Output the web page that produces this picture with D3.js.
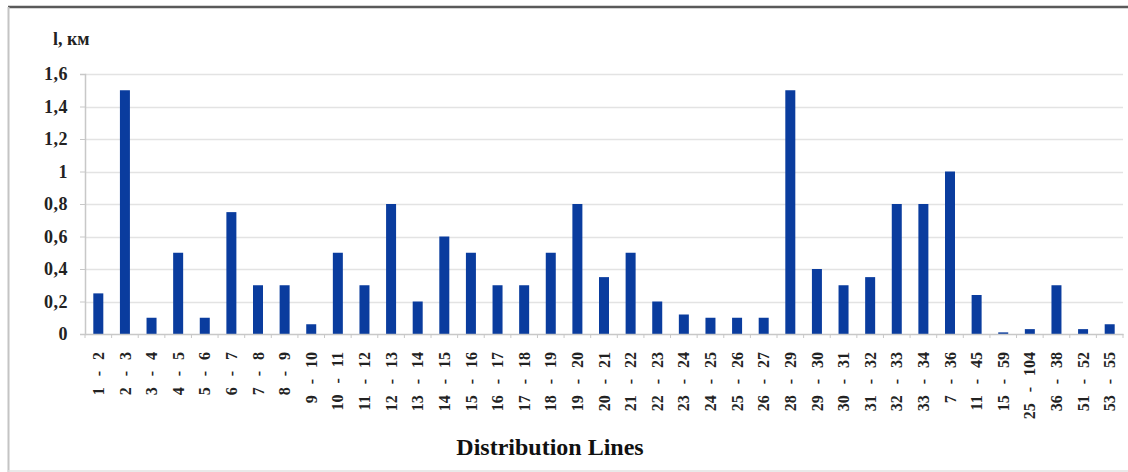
<!DOCTYPE html>
<html><head><meta charset="utf-8">
<script src="https://cdn.jsdelivr.net/npm/d3@7"></script>
<style>
html,body{margin:0;padding:0;background:#fff;}
svg{display:block;}
svg text{font-family:"Liberation Serif","Times New Roman","DejaVu Serif",serif;}
</style></head>
<body>
<svg id="chart" width="1128" height="472"></svg>
<script>
const categories = ["1 - 2","2 - 3","3 - 4","4 - 5","5 - 6","6 - 7","7 - 8","8 - 9","9 - 10","10 - 11","11 - 12","12 - 13","13 - 14","14 - 15","15 - 16","16 - 17","17 - 18","18 - 19","19 - 20","20 - 21","21 - 22","22 - 23","23 - 24","24 - 25","25 - 26","26 - 27","28 - 29","29 - 30","30 - 31","31 - 32","32 - 33","33 - 34","7 - 36","11 - 45","15 - 59","25 - 104","36 - 38","51 - 52","53 - 55"];
const values = [0.25,1.5,0.1,0.5,0.1,0.75,0.3,0.3,0.06,0.5,0.3,0.8,0.2,0.6,0.5,0.3,0.3,0.5,0.8,0.35,0.5,0.2,0.12,0.1,0.1,0.1,1.5,0.4,0.3,0.35,0.8,0.8,1.0,0.24,0.01,0.03,0.3,0.03,0.06];
const yTicks = [0,0.2,0.4,0.6,0.8,1,1.2,1.4,1.6];
const yTitle = "l, км";
const xTitle = "Distribution Lines";

(function(){
const svg = d3.select("#chart");
const W = 1128, H = 472;
const mLeft = 85, mRight = 1123, mTop = 74, mBottom = 334;

// frame
svg.append("line").attr("x1",8).attr("x2",W).attr("y1",7).attr("y2",7).attr("stroke","#5a5a5a").attr("stroke-width",2.5);
svg.append("line").attr("x1",8.5).attr("x2",8.5).attr("y1",7).attr("y2",H).attr("stroke","#c4c4c4").attr("stroke-width",2);
svg.append("line").attr("x1",8).attr("x2",W).attr("y1",471).attr("y2",471).attr("stroke","#e2e2e2").attr("stroke-width",1.5);

const x = d3.scaleBand().domain(categories).range([mLeft, mRight]).paddingInner(0).paddingOuter(0);
const y = d3.scaleLinear().domain([0,1.6]).range([mBottom, mTop]);

// grid
svg.append("g").selectAll("line").data(yTicks.slice(1)).join("line")
  .attr("x1",mLeft).attr("x2",mRight)
  .attr("y1",d=>Math.round(y(d))+0.5).attr("y2",d=>Math.round(y(d))+0.5)
  .attr("stroke","#e3e3e3").attr("stroke-width",1.5);

// bars
const bw = 10;
svg.append("g").selectAll("rect").data(values).join("rect")
  .attr("x",(d,i)=>x(categories[i]) + x.bandwidth()/2 - bw/2)
  .attr("width",bw)
  .attr("y",d=>y(d))
  .attr("height",d=>y(0)-y(d))
  .attr("fill","#0a3c9e");

// y axis
const yAxis = d3.axisLeft(y).tickValues(yTicks).tickSize(5).tickPadding(12)
  .tickFormat(d=>String(d).replace(".",","));
const gy = svg.append("g").attr("transform",`translate(${mLeft},0)`).call(yAxis);
gy.attr("font-family",null);
gy.select(".domain").attr("stroke","#c8c8c8").attr("stroke-width",1.5);
gy.selectAll(".tick line").attr("stroke","#c8c8c8");
gy.selectAll("text").attr("font-size",18).attr("font-weight","bold").attr("fill","#222").attr("letter-spacing","0.5");

// x axis
const xAxis = d3.axisBottom(x).tickSize(0).tickPadding(0);
const gx = svg.append("g").attr("transform",`translate(0,${mBottom})`).call(xAxis);
gx.attr("font-family",null);
gx.select(".domain").attr("stroke","#c8c8c8").attr("stroke-width",1.5);
gx.selectAll(".tick text")
  .attr("font-size",16).attr("font-weight","bold").attr("fill","#222")
  .attr("word-spacing","7")
  .attr("text-anchor","end").attr("y",0).attr("dy","0.35em")
  .attr("transform","translate(0,18) rotate(-90)");
// boundary ticks
svg.append("g").selectAll("line").data(categories.map(c=>x(c)).concat([mRight])).join("line")
  .attr("x1",d=>d).attr("x2",d=>d).attr("y1",mBottom).attr("y2",mBottom+4)
  .attr("stroke","#c8c8c8").attr("stroke-width",1);

// titles
svg.append("text").attr("x",53).attr("y",45).text(yTitle)
  .attr("font-size",18).attr("font-weight","bold").attr("fill","#222");
svg.append("text").attr("x",550).attr("y",455).attr("text-anchor","middle").text(xTitle)
  .attr("font-size",24).attr("font-weight","bold").attr("fill","#111");
})();
</script>
</body></html>
